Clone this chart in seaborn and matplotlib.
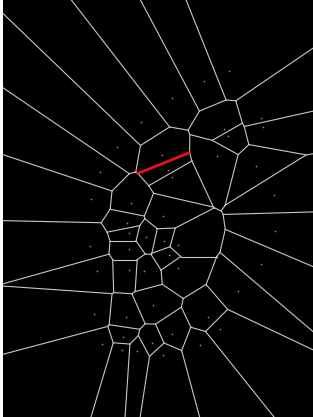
import numpy as np
import pandas as pd
import matplotlib
matplotlib.use("Agg")
import matplotlib.pyplot as plt
import matplotlib.tri as mtri
import seaborn as sns

site_x = [204, 172, 229, 100, 91, 141, 117, 162, 168, 172, 131,
          261, 224, 263, 228, 217, 256, 274, 90, 97,
          163, 127, 129, 146, 164, 129, 178, 169, 129, 144, 153, 178,
          275, 261, 238, 94, 102,
          126, 172, 123, 152, 200, 137, 122, 163, 208, 220]
site_y = [81, 98, 71, 172, 199, 122, 147, 155, 170, 177, 203,
          118, 129, 127, 136, 156, 166, 195, 246, 271,
          216, 223, 233, 237, 241, 249, 245, 255, 270, 271, 305, 268,
          231, 264, 291, 314, 344,
          317, 334, 337, 343, 345, 351, 350, 355, 317, 329]
highlight = (7, 8)

W, H, X0 = 313, 417, 3


def voronoi_segments(xs, ys):
    P = np.column_stack([xs, ys]).astype(float)
    tri = mtri.Triangulation(P[:, 0], P[:, 1])
    T = tri.triangles
    a, b, c = P[T[:, 0]], P[T[:, 1]], P[T[:, 2]]
    d = 2 * (a[:, 0] * (b[:, 1] - c[:, 1]) + b[:, 0] * (c[:, 1] - a[:, 1]) + c[:, 0] * (a[:, 1] - b[:, 1]))
    sa, sb, sc = (a ** 2).sum(1), (b ** 2).sum(1), (c ** 2).sum(1)
    ux = (sa * (b[:, 1] - c[:, 1]) + sb * (c[:, 1] - a[:, 1]) + sc * (a[:, 1] - b[:, 1])) / d
    uy = (sa * (c[:, 0] - b[:, 0]) + sb * (a[:, 0] - c[:, 0]) + sc * (b[:, 0] - a[:, 0])) / d
    cc = np.column_stack([ux, uy])
    nb = tri.neighbors
    segs = []
    for t in range(len(T)):
        for k in range(3):
            i, j, o = T[t][k], T[t][(k + 1) % 3], T[t][(k + 2) % 3]
            n = nb[t][k]
            if n == -1:
                e = P[j] - P[i]
                nrm = np.array([e[1], -e[0]])
                if np.dot(nrm, P[o] - P[i]) > 0:
                    nrm = -nrm
                nrm = nrm / np.linalg.norm(nrm)
                segs.append((i, j, cc[t], cc[t] + nrm * 3000))
            elif n > t:
                segs.append((i, j, cc[t], cc[n]))
    return segs


segs = voronoi_segments(site_x, site_y)
rows, red_rows = [], []
for sid, (i, j, p, q) in enumerate(segs):
    target = red_rows if {i, j} == set(highlight) else rows
    target.append({"seg": sid, "x": p[0], "y": p[1]})
    target.append({"seg": sid, "x": q[0], "y": q[1]})
edges = pd.DataFrame(rows)
red = pd.DataFrame(red_rows)
sites = pd.DataFrame({"x": site_x, "y": site_y})

fig = plt.figure(figsize=(W / 100, H / 100), dpi=100, facecolor="white")
ax = fig.add_axes([X0 / W, 0, (W - X0) / W, 1])
ax.set_facecolor("black")

sns.lineplot(data=edges, x="x", y="y", units="seg", estimator=None, sort=False,
             color="#c8c8c8", linewidth=0.8, ax=ax)
if len(red):
    sns.lineplot(data=red, x="x", y="y", units="seg", estimator=None, sort=False,
                 color="#e0141e", linewidth=2.0, ax=ax)
sns.scatterplot(data=sites, x="x", y="y", s=1.5, color="#8a8a8a", linewidth=0, ax=ax)

ax.set_xlim(X0, W)
ax.set_ylim(H, 0)
ax.set_xticks([])
ax.set_yticks([])
ax.set_xlabel("")
ax.set_ylabel("")
for s in ax.spines.values():
    s.set_visible(False)

fig.savefig("out.png", dpi=100, facecolor="white")
